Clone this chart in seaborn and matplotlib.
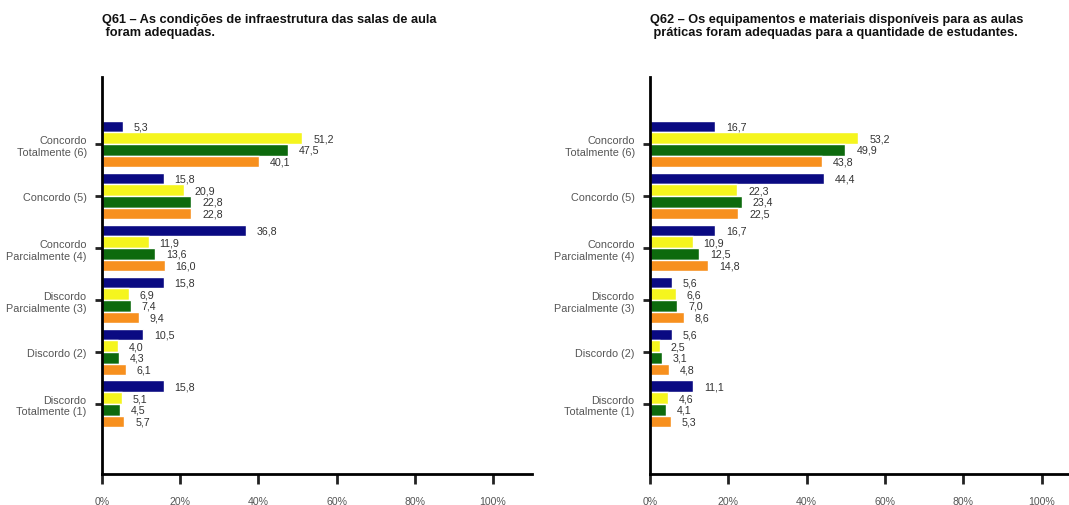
import matplotlib
matplotlib.use("Agg")
import matplotlib.pyplot as plt
import seaborn as sns
import pandas as pd
import numpy as np

categories = ["Concordo\nTotalmente (6)", "Concordo (5)", "Concordo\nParcialmente (4)",
              "Discordo\nParcialmente (3)", "Discordo (2)", "Discordo\nTotalmente (1)"]
series = ["Série 1", "Série 2", "Série 3", "Série 4"]

q61_s1 = [5.3, 15.8, 36.8, 15.8, 10.5, 15.8]
q61_s2 = [51.2, 20.9, 11.9, 6.9, 4.0, 5.1]
q61_s3 = [47.5, 22.8, 13.6, 7.4, 4.3, 4.5]
q61_s4 = [40.1, 22.8, 16.0, 9.4, 6.1, 5.7]

q62_s1 = [16.7, 44.4, 16.7, 5.6, 5.6, 11.1]
q62_s2 = [53.2, 22.3, 10.9, 6.6, 2.5, 4.6]
q62_s3 = [49.9, 23.4, 12.5, 7.0, 3.1, 4.1]
q62_s4 = [43.8, 22.5, 14.8, 8.6, 4.8, 5.3]

xticks = [0, 20, 40, 60, 80, 100]
xtick_labels = ["0%", "20%", "40%", "60%", "80%", "100%"]

title61 = "Q61 – As condições de infraestrutura das salas de aula\n foram adequadas."
title62 = "Q62 – Os equipamentos e materiais disponíveis para as aulas\n práticas foram adequadas para a quantidade de estudantes."

colors = ["#0a0a82", "#f5f51e", "#0d6a0d", "#f7901e"]

sns.set_theme(style="white")
fam = ["Liberation Sans", "DejaVu Sans"]
plt.rcParams["font.family"] = fam


def make_df(vals):
    rows = []
    for s, v in zip(series, vals):
        for c, x in zip(categories, v):
            rows.append({"cat": c, "serie": s, "val": x})
    return pd.DataFrame(rows)


fig = plt.figure(figsize=(10.69, 5.06), dpi=100)
ax1 = fig.add_axes([102 / 1069, 31 / 506, 430 / 1069, 397 / 506])
ax2 = fig.add_axes([650 / 1069, 31 / 506, 419 / 1069, 397 / 506])

panels = [
    (ax1, [q61_s1, q61_s2, q61_s3, q61_s4], title61, 110),
    (ax2, [q62_s1, q62_s2, q62_s3, q62_s4], title62, 107),
]

for ax, vals, title, xmax in panels:
    df = make_df(vals)
    sns.barplot(data=df, y="cat", x="val", hue="serie", palette=colors,
                orient="h", width=0.9, dodge=True, legend=False, ax=ax,
                saturation=1, errorbar=None)
    for cont in ax.containers:
        for bar in cont:
            w = bar.get_width()
            yc = bar.get_y() + bar.get_height() / 2
            ax.text(w + 2.8, yc, f"{w:.1f}".replace(".", ","), va="center", ha="left",
                    fontsize=7.7, color="#333333")
    ax.set_xlim(0, xmax)
    ax.set_ylim(6.35, -1.29)
    ax.set_xticks(xticks)
    ax.set_xticklabels(xtick_labels)
    ax.set_xlabel("")
    ax.set_ylabel("")
    for s in ["top", "right"]:
        ax.spines[s].set_visible(False)
    for s in ["left", "bottom"]:
        ax.spines[s].set_color("black")
        ax.spines[s].set_linewidth(2)
    ax.tick_params(axis="x", direction="out", length=7, width=2, color="#222222",
                   labelsize=7.6, labelcolor="#555555", pad=9, bottom=True)
    ax.tick_params(axis="y", direction="out", length=5, width=2, color="#222222",
                   labelsize=7.8, labelcolor="#555555", pad=6, left=True)
    for lab in ax.get_yticklabels():
        lab.set_multialignment("right")
    ax.grid(False)
    ax.text(0.0, 1.162, title, transform=ax.transAxes, ha="left", va="top",
            fontsize=9.2, fontweight="bold", color="#111111", linespacing=1.15)

fig.savefig("out.png", dpi=100)
